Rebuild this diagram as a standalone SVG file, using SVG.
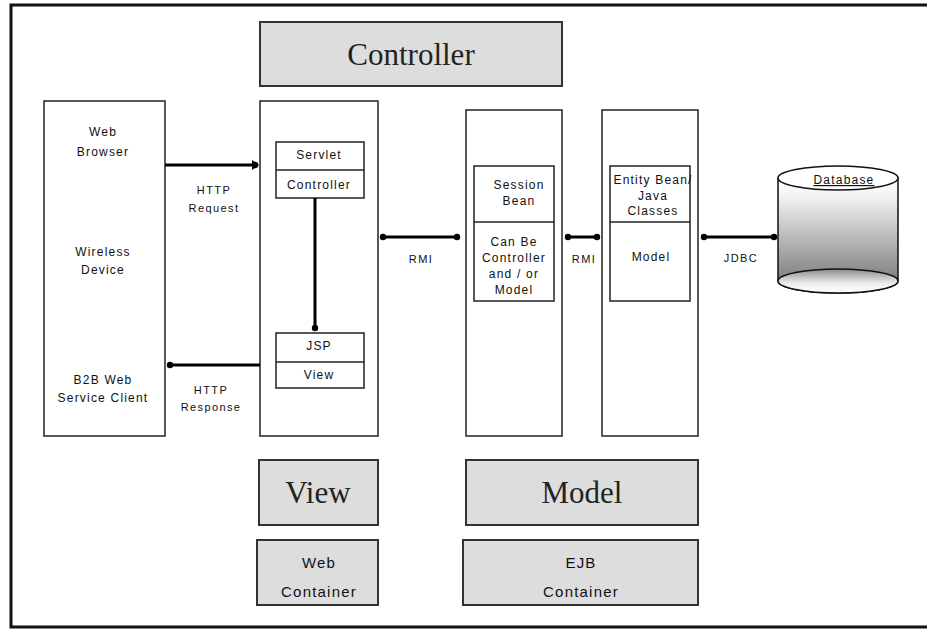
<svg xmlns="http://www.w3.org/2000/svg" width="927" height="629" viewBox="0 0 927 629">
<defs>
  <marker id="dot" viewBox="0 0 8 8" refX="4" refY="4" markerWidth="8" markerHeight="8" markerUnits="userSpaceOnUse">
    <circle cx="4" cy="4" r="3.2" fill="#000"/>
  </marker>
  <linearGradient id="cyl" x1="0" y1="0" x2="0" y2="1">
    <stop offset="0" stop-color="#ffffff"/>
    <stop offset="0.15" stop-color="#f4f4f4"/>
    <stop offset="1" stop-color="#6e6e6e"/>
  </linearGradient>
  <linearGradient id="cylb" x1="0" y1="0" x2="0" y2="1">
    <stop offset="0" stop-color="#8a8a8a"/>
    <stop offset="0.6" stop-color="#eeeeee"/>
    <stop offset="1" stop-color="#ffffff"/>
  </linearGradient>
</defs>
<style>
  .frame{fill:#fff;stroke:#111;stroke-width:3}
  .box{fill:#fff;stroke:#222;stroke-width:1.5}
  .gbox{fill:#dddddd;stroke:#333;stroke-width:2}
  .s{font-family:"Liberation Sans",Arial,sans-serif;font-size:12px;letter-spacing:1.2px;fill:#111;text-anchor:middle}
  .lbl{font-family:"Liberation Sans",Arial,sans-serif;font-size:11px;letter-spacing:1.4px;fill:#111;text-anchor:middle}
  .m{font-family:"Liberation Sans",Arial,sans-serif;font-size:15px;letter-spacing:1.2px;fill:#111;text-anchor:middle}
  .big{font-family:"Liberation Serif","Times New Roman",serif;font-size:31px;fill:#222;text-anchor:middle}
  .conn{stroke:#000;stroke-width:3;fill:none}
</style>
<rect width="927" height="629" fill="#fff"/>
<path class="frame" d="M930 5 H11 V627 H930"/>

<g id="controller-label">
  <rect class="gbox" x="260" y="22" width="302" height="64"/>
  <text class="big" x="411" y="65">Controller</text>
</g>

<g id="clients">
  <rect class="box" x="44" y="101" width="121" height="335"/>
  <text class="s" x="103" y="136">Web</text>
  <text class="s" x="103" y="156">Browser</text>
  <text class="s" x="103" y="256">Wireless</text>
  <text class="s" x="103" y="274">Device</text>
  <text class="s" x="103" y="384">B2B Web</text>
  <text class="s" x="103" y="402">Service Client</text>
</g>

<g id="web-container">
  <rect class="box" x="260" y="101" width="118" height="335"/>
</g>

<g id="servlet">
  <rect class="box" x="276" y="142" width="88" height="56"/>
  <line x1="276" y1="170" x2="364" y2="170" stroke="#222" stroke-width="1.5"/>
  <text class="s" x="319" y="159">Servlet</text>
  <text class="s" x="319" y="189">Controller</text>
</g>

<g id="jsp">
  <rect class="box" x="276" y="333" width="88" height="55"/>
  <line x1="276" y1="362" x2="364" y2="362" stroke="#222" stroke-width="1.5"/>
  <text class="s" x="319" y="350">JSP</text>
  <text class="s" x="319" y="379">View</text>
</g>

<g id="ejb-column">
  <rect class="box" x="466" y="110" width="96" height="326"/>
</g>

<g id="session-bean">
  <rect class="box" x="474" y="166" width="80" height="135"/>
  <line x1="474" y1="222" x2="554" y2="222" stroke="#222" stroke-width="1.5"/>
  <text class="s" x="519" y="189">Session</text>
  <text class="s" x="519" y="205">Bean</text>
  <text class="s" x="514" y="246">Can Be</text>
  <text class="s" x="514" y="262">Controller</text>
  <text class="s" x="514" y="278">and / or</text>
  <text class="s" x="514" y="294">Model</text>
</g>

<g id="entity-column">
  <rect class="box" x="602" y="110" width="96" height="326"/>
</g>

<g id="entity-bean">
  <rect class="box" x="610" y="166" width="80" height="135"/>
  <line x1="610" y1="222" x2="690" y2="222" stroke="#222" stroke-width="1.5"/>
  <text class="s" x="653" y="184">Entity Bean/</text>
  <text class="s" x="653" y="200">Java</text>
  <text class="s" x="653" y="215">Classes</text>
  <text class="s" x="651" y="261">Model</text>
</g>

<g id="database">
  <path d="M778 178 V281 A60 12 0 0 0 898 281 V178 Z" fill="url(#cyl)" stroke="#111" stroke-width="1.5"/>
  <ellipse cx="838" cy="281" rx="60" ry="12" fill="url(#cylb)" stroke="#111" stroke-width="1.5"/>
  <ellipse cx="838" cy="178" rx="60" ry="12" fill="#fff" stroke="#111" stroke-width="1.5"/>
  <text class="s" x="844" y="184" text-decoration="underline">Database</text>
</g>

<g id="view-label">
  <rect class="gbox" x="259" y="460" width="119" height="65"/>
  <text class="big" x="318" y="503">View</text>
</g>

<g id="model-label">
  <rect class="gbox" x="466" y="460" width="232" height="65"/>
  <text class="big" x="582" y="503">Model</text>
</g>

<g id="web-container-label">
  <rect class="gbox" x="257" y="540" width="121" height="65"/>
  <text class="m" x="319" y="568">Web</text>
  <text class="m" x="319" y="597">Container</text>
</g>

<g id="ejb-container-label">
  <rect class="gbox" x="463" y="540" width="235" height="65"/>
  <text class="m" x="581" y="568">EJB</text>
  <text class="m" x="581" y="597">Container</text>
</g>

<g id="connectors">
  <line class="conn" x1="165" y1="165" x2="255" y2="165" marker-end="url(#dot)"/>
  <path d="M252 160 L259 165 L252 170 Z" fill="#000"/>
  <text class="lbl" x="214" y="194">HTTP</text>
  <text class="lbl" x="214" y="212">Request</text>

  <line class="conn" x1="260" y1="365" x2="170" y2="365" marker-end="url(#dot)"/>
  <text class="lbl" x="211" y="394">HTTP</text>
  <text class="lbl" x="211" y="411">Response</text>

  <line class="conn" x1="315" y1="198" x2="315" y2="328" marker-end="url(#dot)"/>

  <line class="conn" x1="383" y1="237" x2="457" y2="237" marker-start="url(#dot)" marker-end="url(#dot)"/>
  <text class="lbl" x="421" y="263">RMI</text>

  <line class="conn" x1="568" y1="237" x2="597" y2="237" marker-start="url(#dot)" marker-end="url(#dot)"/>
  <text class="lbl" x="584" y="263">RMI</text>

  <line class="conn" x1="704" y1="237" x2="774" y2="237" marker-start="url(#dot)" marker-end="url(#dot)"/>
  <text class="lbl" x="741" y="262">JDBC</text>
</g>
</svg>
